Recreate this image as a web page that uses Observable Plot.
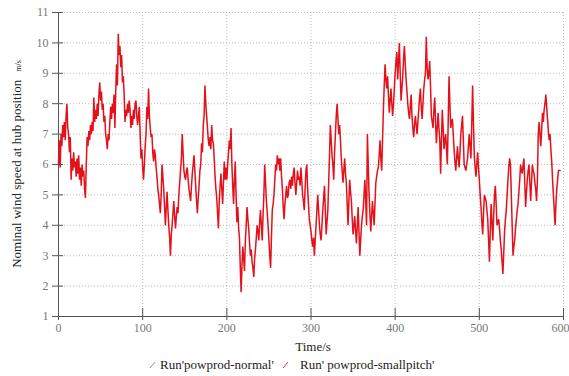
<!DOCTYPE html>
<html><head><meta charset="utf-8">
<script src="https://cdn.jsdelivr.net/npm/d3@7"></script>
<script src="https://cdn.jsdelivr.net/npm/@observablehq/plot@0.6"></script>
<style>
body{margin:0;background:#fff;font-family:"Liberation Serif",serif;}
#legend{position:relative;height:20px;width:569px;font-size:13px;color:#222;}
#legend span{position:absolute;top:1px;white-space:nowrap;}
</style></head>
<body><div id="chart"></div>
<div id="legend">
<span style="left:149px"><svg width="8" height="10"><line x1="1" y1="9" x2="6" y2="3" stroke="#999" stroke-width="1"/></svg></span>
<span style="left:160px">Run'powprod-normal'</span>
<span style="left:282px"><svg width="8" height="10"><line x1="1" y1="9" x2="6" y2="3" stroke="#f26" stroke-width="1"/></svg></span>
<span style="left:300px">Run' powprod-smallpitch'</span>
</div>
<script>
// wind speed (m/s), one sample per second starting at t = 0 s
const sampleStart = 0, sampleStep = 1;
const windSpeed = [
6.0,6.8,5.9,7.0,6.6,7.3,6.9,7.4,6.8,7.6,
8.0,7.2,7.0,6.4,6.9,5.5,6.2,5.8,6.4,5.9,
6.1,5.6,6.2,5.7,6.3,5.5,5.9,5.3,6.0,5.6,
5.8,5.2,4.9,6.0,6.9,6.6,7.1,6.8,7.3,7.0,
7.4,7.1,8.2,7.4,7.8,7.5,8.0,7.6,8.3,8.7,
8.1,8.4,7.8,8.0,7.4,7.6,7.0,6.8,6.5,7.0,
6.8,7.4,7.9,7.5,8.0,7.7,8.3,7.2,8.4,9.3,
8.6,10.3,9.6,9.9,9.2,9.6,8.7,8.9,8.3,7.4,
7.8,7.6,8.0,7.7,8.1,7.8,7.2,7.6,7.3,7.8,
7.5,8.0,8.1,7.6,7.3,7.6,7.9,7.0,6.2,6.5,
5.9,5.5,6.0,6.6,7.0,7.9,7.5,8.5,7.6,7.2,
6.9,7.0,6.4,6.1,6.5,6.3,5.9,5.6,5.2,5.0,
4.7,4.4,5.0,6.0,5.6,5.2,4.6,4.0,4.6,5.1,
4.5,4.0,3.6,3.0,3.7,4.0,4.4,4.8,4.3,3.9,
4.3,4.6,4.4,5.0,5.4,5.8,6.2,7.0,6.4,5.8,
5.6,5.5,5.8,5.9,5.5,5.2,5.0,4.8,5.3,5.7,
6.0,6.3,5.8,5.3,4.8,4.4,4.9,5.3,5.8,6.0,
6.7,6.4,7.3,7.6,8.6,8.0,7.6,7.2,6.8,6.6,
6.9,6.5,7.3,6.8,6.7,6.2,5.6,5.2,4.9,4.4,
3.9,4.8,5.3,5.7,5.2,4.7,5.4,6.1,5.5,5.9,
5.5,6.0,6.4,6.8,6.5,7.2,6.0,5.3,4.7,5.5,
6.1,5.0,4.1,4.6,3.9,3.6,2.6,1.8,2.7,3.3,
2.9,2.5,3.5,4.0,4.6,4.2,3.9,3.4,3.0,3.2,
2.8,2.6,2.3,2.9,3.2,3.6,4.0,3.8,3.5,4.1,
4.5,4.0,3.5,4.3,5.0,6.0,5.4,4.8,4.4,4.0,
3.5,3.0,2.6,3.6,4.5,4.7,5.0,5.5,6.0,5.8,
6.3,6.0,6.2,5.8,6.2,5.6,5.2,4.6,4.2,4.7,
5.0,5.3,4.9,5.0,5.4,5.5,5.2,5.6,5.3,5.7,
5.9,5.4,5.0,5.4,5.8,5.5,5.6,5.3,5.9,5.5,
5.0,4.8,4.5,5.2,5.8,6.0,5.2,4.7,4.2,4.0,
3.8,3.5,3.3,3.6,3.0,3.5,4.0,4.5,5.0,4.5,
4.0,3.7,3.5,4.0,4.5,4.9,5.3,4.5,3.7,4.1,
4.5,5.4,6.3,7.3,6.8,6.3,6.0,5.5,6.4,7.0,
7.6,8.0,7.5,7.0,7.3,6.8,6.2,5.8,5.4,5.8,
6.2,5.7,5.4,4.7,4.0,4.8,5.5,5.1,4.8,4.2,
3.7,4.0,4.3,3.8,3.4,4.0,4.6,3.8,3.0,3.5,
4.0,4.3,4.5,5.0,5.5,4.8,4.0,7.0,6.0,5.0,
4.4,3.8,4.3,4.8,4.4,4.0,4.7,5.4,5.6,5.8,
5.9,6.3,6.8,6.2,5.8,6.8,7.8,8.6,9.3,8.8,
8.5,8.9,8.3,7.7,8.1,8.5,8.0,7.6,8.0,8.5,
9.0,9.4,9.7,8.8,9.4,10.0,9.0,8.1,8.5,8.9,
9.5,9.9,9.3,8.8,8.4,8.0,7.7,7.5,7.9,8.3,
7.6,7.2,6.9,7.3,7.6,7.3,7.0,7.4,7.8,8.2,
8.5,7.9,7.5,8.0,8.5,8.8,9.0,10.2,9.2,8.8,
9.0,9.4,8.6,7.6,7.4,7.2,7.8,8.2,7.4,6.7,
7.2,7.7,7.2,6.8,5.7,6.8,7.8,7.2,6.5,6.8,
7.0,6.5,6.0,7.4,8.9,8.0,7.2,7.4,7.5,7.0,
6.5,6.1,5.8,6.2,6.6,6.2,5.9,6.4,7.0,7.3,
7.6,6.8,6.0,5.9,5.8,6.0,6.2,6.6,7.0,6.6,
6.2,7.3,8.6,7.4,6.3,5.9,5.6,6.0,6.4,5.9,
5.5,5.0,4.6,4.1,3.7,4.4,5.0,4.9,4.8,4.5,
4.2,3.5,2.8,3.8,4.7,4.1,3.5,4.3,5.0,5.3,
4.7,4.0,4.1,4.2,3.9,3.5,3.2,2.8,2.4,3.1,
3.8,4.2,4.5,5.0,5.5,5.9,6.2,6.0,5.0,4.0,
3.0,3.3,3.5,3.9,4.2,4.5,4.7,5.1,5.5,6.0,
5.8,5.7,6.0,6.2,5.4,4.6,5.1,5.5,5.8,6.0,
5.4,4.8,5.4,6.0,5.8,5.7,5.4,5.2,4.8,5.5,
7.0,7.4,7.0,6.6,7.1,7.7,7.4,7.8,8.0,8.3,
7.9,7.5,7.1,6.8,7.0,6.5,6.1,5.5,5.0,4.5,
4.0,4.7,5.2,5.5,5.8,5.8,5.8
];
const xTicks = [0, 100, 200, 300, 400, 500, 600];
const yTicks = [1, 2, 3, 4, 5, 6, 7, 8, 9, 10, 11];
const xLabel = "Time/s";
const yLabel = "Nominal wind speed at hub position";
const yUnit = "m/s";

const data = windSpeed.map((v, i) => ({t: sampleStart + i * sampleStep, v}));
const lastTick = xTicks[xTicks.length - 1];

const plot = Plot.plot({
  width: 569, height: 356,
  marginLeft: 58, marginRight: 6, marginTop: 12, marginBottom: 40,
  style: {fontFamily: "Liberation Serif, serif", background: "#fff"},
  x: {domain: [0, 600], ticks: xTicks},
  y: {domain: [1, 11], ticks: yTicks},
  marks: [
    Plot.gridX(xTicks.slice(1), {stroke: "#bbb", strokeOpacity: 1, strokeDasharray: "1,2"}),
    Plot.gridY(yTicks.slice(1), {stroke: "#bbb", strokeOpacity: 1, strokeDasharray: "1,2"}),
    Plot.ruleY([1], {stroke: "#555"}),
    Plot.ruleX([0], {stroke: "#555"}),
    Plot.axisX(xTicks.slice(0, -1), {tickSize: 12, dy: -8, tickPadding: 3, fontSize: 12, fill: "#777", stroke: "#555", label: null}),
    Plot.axisX([lastTick], {tickSize: 12, dy: -8, text: null, stroke: "#555", label: null}),
    Plot.text([lastTick], {x: d => d, frameAnchor: "bottom", lineAnchor: "top", textAnchor: "end", dx: 6, dy: 7, fontSize: 12, fill: "#777"}),
    Plot.axisY(yTicks, {tickSize: 11, dx: 5, tickPadding: 4, fontSize: 12, fill: "#777", stroke: "#555", label: null}),
    Plot.line(data, {x: "t", y: "v", stroke: "#e4101a", strokeWidth: 1.5, strokeLinejoin: "miter"}),
    Plot.text([xLabel], {frameAnchor: "bottom", dy: 34, fontSize: 13, fill: "#222", dx: 2})
  ]
});
document.getElementById("chart").append(plot);

// rotated y-axis title with small unit
const svg = d3.select(plot);
const yt = svg.append("text")
  .attr("transform", "translate(21,164) rotate(-90)")
  .attr("text-anchor", "middle")
  .attr("font-family", "Liberation Serif, serif")
  .attr("font-size", 13)
  .attr("fill", "#222");
yt.append("tspan").text(yLabel);
yt.append("tspan").attr("dx", 8).attr("font-size", 8).text(yUnit);
</script>
</body></html>
